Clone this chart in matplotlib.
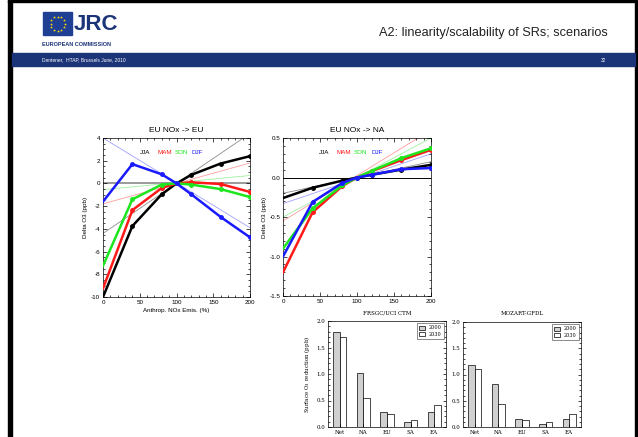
import matplotlib
matplotlib.use("Agg")
import matplotlib.pyplot as plt
from matplotlib import font_manager
from matplotlib.patches import Rectangle
import numpy as np

W, H = 638, 437

# emission scaling (%) and ozone response (ppb)
emis = [0, 40, 80, 100, 120, 160, 200]
seasons = ["JJA", "MAM", "SON", "DJF"]
season_colors = ["black", "#ff1a1a", "#1ee61e", "#1a1aff"]
fit_colors = ["#8c8c8c", "#ff9c9c", "#a0f0a0", "#a0a0ff"]

eu_eu = [
    [-10.0, -3.75, -0.95, 0.0, 0.75, 1.75, 2.4],
    [-9.25, -2.35, -0.4, 0.0, 0.1, -0.05, -0.75],
    [-7.25, -1.4, -0.1, 0.0, -0.1, -0.5, -1.2],
    [-1.6, 1.7, 0.8, 0.0, -0.95, -2.95, -4.75],
]
eu_eu_fit = [(-4.4, 4.4), (-1.8, 1.8), (-0.55, 0.7), (4.0, -3.9)]

eu_na = [
    [-0.26, -0.13, -0.04, 0.0, 0.035, 0.1, 0.16],
    [-1.2, -0.44, -0.11, 0.0, 0.08, 0.22, 0.35],
    [-0.9, -0.39, -0.1, 0.0, 0.085, 0.245, 0.37],
    [-1.0, -0.31, -0.07, 0.0, 0.035, 0.105, 0.12],
]
eu_na_fit = [(-0.2, 0.2), (-0.55, 0.6), (-0.5, 0.5), (-0.33, 0.3)]

# surface O3 reduction (ppb) by receptor region
regions = ["Net", "NA", "EU", "SA", "EA"]
frsgc_2000 = [1.80, 1.01, 0.28, 0.09, 0.29]
frsgc_2030 = [1.69, 0.54, 0.24, 0.14, 0.42]
mozart_2000 = [1.19, 0.81, 0.15, 0.06, 0.16]
mozart_2030 = [1.10, 0.44, 0.13, 0.09, 0.24]

names = {f.name for f in font_manager.fontManager.ttflist}
narrow = "Liberation Sans Narrow" if "Liberation Sans Narrow" in names else "Liberation Sans"
plt.rcParams["font.family"] = [narrow, "DejaVu Sans"]


def box(l, t, r, b):
    return [l / W, 1 - b / H, (r - l) / W, (b - t) / H]


fig = plt.figure(figsize=(W / 100, H / 100), dpi=100)

# slide frame and header
fig.patches.append(Rectangle((8 / W, 0), 4 / W, 1, transform=fig.transFigure, color="black"))
fig.patches.append(Rectangle((635 / W, 0), 3 / W, 1, transform=fig.transFigure, color="black"))
fig.patches.append(Rectangle((8 / W, 1 - 2 / H), 630 / W, 2 / H, transform=fig.transFigure, color="black"))
fig.patches.append(Rectangle((12 / W, 1 - 66 / H), 623 / W, 13 / H, transform=fig.transFigure,
                             color="#1c3578"))
fig.patches.append(Rectangle((43 / W, 1 - 35 / H), 29 / W, 23 / H, transform=fig.transFigure,
                             color="#1f3f94"))
ang = np.linspace(0, 2 * np.pi, 13)[:-1]
fig.add_artist(plt.Line2D((57.5 + 7 * np.cos(ang)) / W, 1 - (23.5 + 7 * np.sin(ang)) / H,
                          ls="none", marker="*", ms=2.2, color="#ffdd00", mec="none"))
fig.text(74 / W, 1 - 24 / H, "JRC", fontsize=16, fontweight="bold", color="#1c3578",
         va="center", ha="left")
fig.text(42 / W, 1 - 44 / H, "EUROPEAN COMMISSION", fontsize=4, fontweight="bold",
         color="#1c3578", va="center", ha="left")
fig.text(608 / W, 1 - 33 / H, "A2: linearity/scalability of SRs; scenarios", fontsize=9.2,
         color="#222222", va="center", ha="right")
fig.text(42 / W, 1 - 60 / H, "Dentener,  HTAP, Brussels June, 2010", fontsize=3.5,
         color="white", va="center", ha="left")
fig.text(606 / W, 1 - 60 / H, "32", fontsize=3.5, color="white", va="center", ha="right")


def line_panel(rect, data, fits, title, ylim, yticks, yminor, zero_color, zero_lw, leg_x, xlabel):
    ax = fig.add_axes(box(*rect))
    ax.axhline(0, color=zero_color, lw=zero_lw, zorder=1)
    for (a, b), c in zip(fits, fit_colors):
        ax.plot([0, 200], [a, b], color=c, lw=0.6, zorder=1)
    for vals, c in zip(data, season_colors):
        ax.plot(emis, vals, color=c, lw=1.8, marker="o", ms=2.5, markevery=list(range(1, 7)),
                zorder=3)
    for name, c, x in zip(seasons, season_colors, leg_x):
        ax.text(x, 0.91, name, color=c, fontsize=4.5, transform=ax.transAxes, va="center")
    ax.set_xlim(0, 200)
    ax.set_ylim(*ylim)
    ax.set_xticks([0, 50, 100, 150, 200])
    ax.set_xticks(np.arange(0, 201, 10), minor=True)
    ax.set_yticks(yticks)
    ax.set_yticks(np.arange(ylim[0], ylim[1] + 1e-9, yminor), minor=True)
    ax.tick_params(which="both", direction="in", top=True, right=True, labelsize=4.5, width=0.5,
                   pad=2)
    ax.tick_params(which="major", length=3)
    ax.tick_params(which="minor", length=1.5)
    for s in ax.spines.values():
        s.set_linewidth(0.5)
    ax.set_title(title, fontsize=6, pad=4)
    ax.set_ylabel("Delta O3 (ppb)", fontsize=4.5, labelpad=2)
    if xlabel:
        ax.set_xlabel(xlabel, fontsize=4.5, labelpad=2)
    return ax


ax1 = line_panel((103, 138, 250, 297), eu_eu, eu_eu_fit, "EU NOx -> EU", (-10, 4),
                 [4, 2, 0, -2, -4, -6, -8, -10], 0.5, "#9a9a9a", 1.4,
                 [0.25, 0.37, 0.49, 0.605], "Anthrop. NOx Emis. (%)")
ax1.set_yticklabels(["4", "2", "0", "-2", "-4", "-6", "-8", "-10"])
ax2 = line_panel((283, 138, 431, 296), eu_na, eu_na_fit, "EU NOx -> NA", (-1.5, 0.5),
                 [0.5, 0.0, -0.5, -1.0, -1.5], 0.1, "black", 0.7,
                 [0.24, 0.36, 0.48, 0.595], None)
ax2.set_yticklabels(["0.5", "0.0", "-0.5", "-1.0", "-1.5"])

# white backing for the pasted bar charts
fig.patches.append(Rectangle((300 / W, 0), 290 / W, (437 - 309) / H, transform=fig.transFigure,
                             color="white", zorder=5))


def bar_panel(rect, v2000, v2030, title, ylabel):
    ax = fig.add_axes(box(*rect))
    ax.set_zorder(6)
    x = np.arange(len(regions))
    w = 0.28
    ax.bar(x - w / 2, v2000, w, color="#d0d0d0", edgecolor="black", lw=0.5, label="2000")
    ax.bar(x + w / 2, v2030, w, color="white", edgecolor="black", lw=0.5, label="2030")
    ax.set_xlim(-0.5, 4.5)
    ax.set_ylim(0, 2.0)
    ax.set_xticks(x)
    ax.set_xticklabels(regions)
    ax.set_yticks([0, 0.5, 1.0, 1.5, 2.0])
    ax.set_yticklabels(["0.0", "0.5", "1.0", "1.5", "2.0"])
    ax.set_yticks(np.arange(0, 2.01, 0.1), minor=True)
    ax.tick_params(which="both", direction="in", right=True, labelsize=4, width=0.5, pad=2,
                   labelfontfamily="DejaVu Serif")
    ax.tick_params(axis="x", length=0)
    ax.tick_params(which="major", length=2.5)
    ax.tick_params(which="minor", length=1.2)
    for s in ax.spines.values():
        s.set_linewidth(0.5)
    ax.set_title(title, fontsize=4, pad=5, family="DejaVu Serif")
    if ylabel:
        ax.set_ylabel(ylabel, fontsize=4, labelpad=3, family="DejaVu Serif")
    leg = ax.legend(loc="upper right", fontsize=3.5, frameon=True, fancybox=False,
                    edgecolor="black", handlelength=1.2, handleheight=0.8, borderpad=0.4,
                    labelspacing=0.3, prop={"family": "DejaVu Serif", "size": 3.5})
    leg.get_frame().set_linewidth(0.4)
    return ax


bar_panel((328, 321, 446, 427), frsgc_2000, frsgc_2030, "FRSGC/UCI CTM",
          "Surface O$_3$ reduction (ppb)")
bar_panel((463, 322, 581, 427), mozart_2000, mozart_2030, "MOZART-GFDL", None)

fig.savefig("out.png", dpi=100)
